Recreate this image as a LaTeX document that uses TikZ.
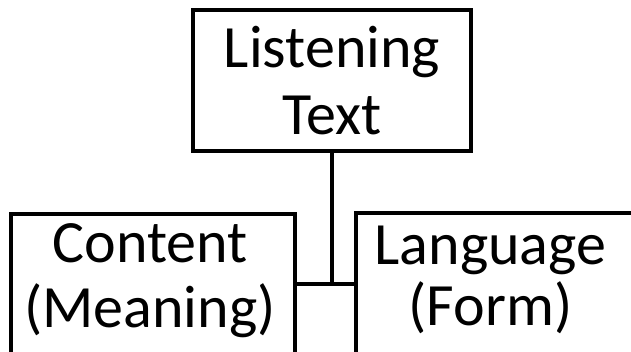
\documentclass[tikz,border=0pt]{standalone}
\usepackage{fontspec}
\setmainfont{Carlito}
\begin{document}
\begin{tikzpicture}[x=1pt,y=1pt,
  box/.style={draw=black, line width=4pt, rectangle, inner sep=0pt},
  lbl/.style={font=\fontsize{60}{65}\selectfont, align=center, inner sep=0pt}]
\useasboundingbox (0,0) rectangle (631,351);
\clip (0,0) rectangle (631,351);
\fill[white] (0,0) rectangle (631,351);
% top box
\node[box, lbl, minimum width=278pt, minimum height=141pt] (text) at (332,270.5) {Listening\\[2pt]Text};
% lower boxes (cut off by the picture edge)
\node[box, minimum width=284pt, minimum height=200pt, anchor=north] (content) at (153,139) {};
\node[box, minimum width=284pt, minimum height=200pt, anchor=north west] (language) at (354,140) {};
\node[lbl, anchor=north] (contentlbl) at (150,128) {Content\\(Meaning)};
\node[lbl, anchor=north] (languagelbl) at (490.5,125) {Language\\[-4pt](Form)};
% connectors
\coordinate (join) at (332,67.5);
\draw[line width=4pt] (text.south) -- (join);
\draw[line width=4pt] (content.east |- join) -- (language.west |- join);
\end{tikzpicture}
\end{document}
